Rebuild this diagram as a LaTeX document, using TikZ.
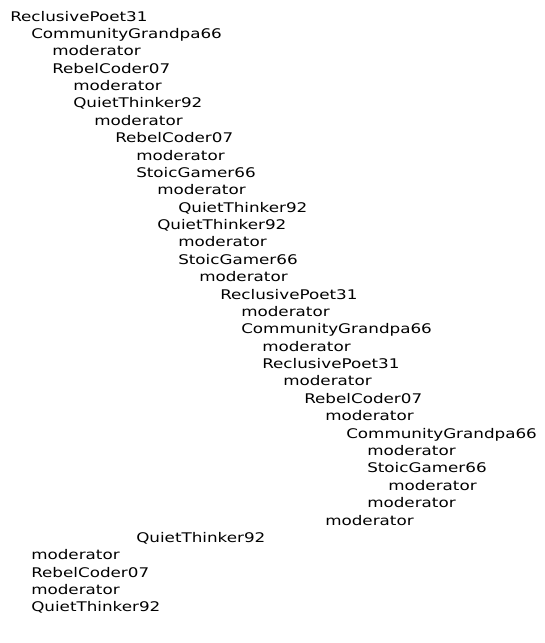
\documentclass[tikz,border=0pt]{standalone}
\usepackage{fontspec}
\setmainfont{DejaVu Sans}
\usepackage{tikz}
\usetikzlibrary{positioning}

\tikzset{
    post/.style={anchor=base west, inner sep=0pt, xscale=1.26,
        font=\fontsize{13.3}{16}\selectfont}
}

\begin{document}
\begin{tikzpicture}[x=1pt, y=-1pt]
    \useasboundingbox (0,0) rectangle (545,643);

    % Thread, one line per post: indent level / author
    \foreach \lvl/\who [count=\i from 0] in {
        0/ReclusivePoet31, 1/CommunityGrandpa66, 2/moderator, 2/RebelCoder07,
        3/moderator, 3/QuietThinker92, 4/moderator, 5/RebelCoder07,
        6/moderator, 6/StoicGamer66, 7/moderator, 8/QuietThinker92,
        7/QuietThinker92, 8/moderator, 8/StoicGamer66, 9/moderator,
        10/ReclusivePoet31, 11/moderator, 11/CommunityGrandpa66, 12/moderator,
        12/ReclusivePoet31, 13/moderator, 14/RebelCoder07, 15/moderator,
        16/CommunityGrandpa66, 17/moderator, 17/StoicGamer66, 18/moderator,
        17/moderator, 15/moderator, 6/QuietThinker92, 1/moderator,
        1/RebelCoder07, 1/moderator, 1/QuietThinker92}
        \node[post] (post\i) at ({10+21*\lvl}, {21+17.38*\i}) {\who};
\end{tikzpicture}
\end{document}
